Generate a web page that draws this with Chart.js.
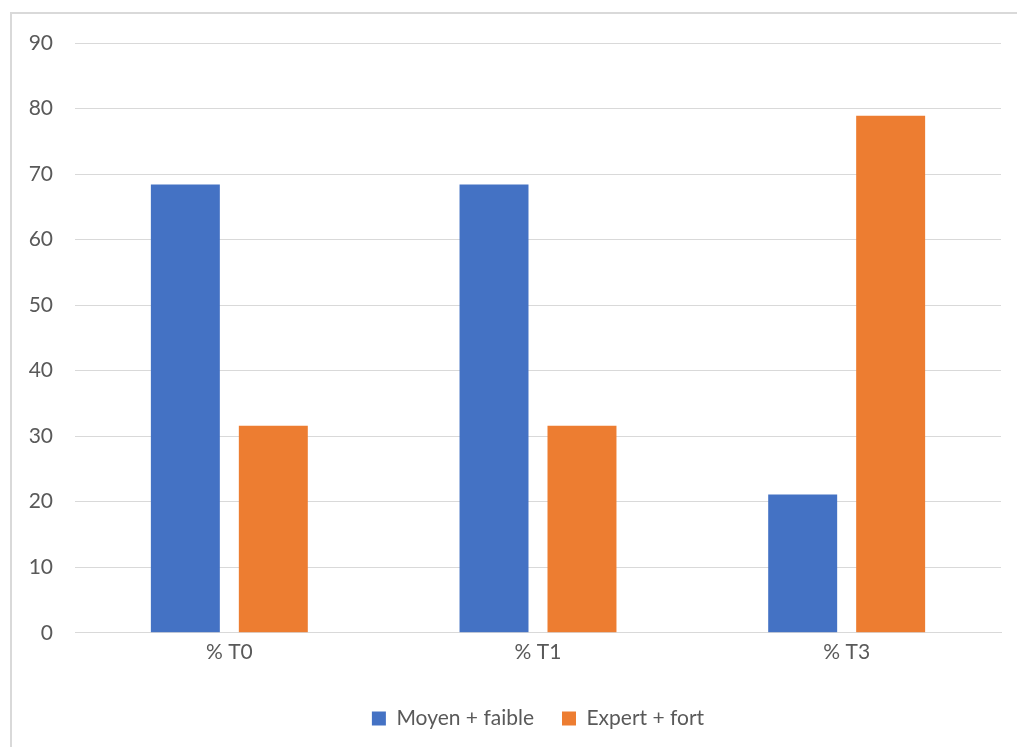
<!DOCTYPE html>
<html>
<head>
<meta charset="utf-8">
<script src="https://cdn.jsdelivr.net/npm/chart.js@4"></script>
<style>
  html, body { margin: 0; padding: 0; background: #fff; overflow: hidden; }
  #wrap { position: relative; width: 1017px; height: 747px; overflow: hidden; }
  #frame { position: absolute; left: 10px; top: 12px; width: 2000px; height: 2000px;
           border-left: 2px solid #d9d9d9; border-top: 2px solid #d9d9d9; }
  canvas { position: absolute; left: 0; top: 0; }
</style>
</head>
<body>
<div id="wrap">
  <div id="frame"></div>
  <canvas id="chartCanvas" width="1017" height="747"></canvas>
</div>
<script>
const categories = ['% T0', '% T1', '% T3'];
const moyenFaible = [68.4, 68.4, 21.1];
const expertFort = [31.6, 31.6, 78.9];
const seriesNames = ['Moyen + faible', 'Expert + fort'];

const ctx = document.getElementById('chartCanvas').getContext('2d');
const police = { family: 'Lato, "Open Sans", sans-serif', size: 21 };

new Chart(ctx, {
  type: 'bar',
  data: {
    labels: categories,
    datasets: [
      { label: seriesNames[0], data: moyenFaible, backgroundColor: '#4472C4' },
      { label: seriesNames[1], data: expertFort, backgroundColor: '#ED7D31' }
    ]
  },
  options: {
    responsive: false,
    animation: false,
    layout: { padding: { top: 43, right: 16, bottom: 8, left: 0 } },
    datasets: { bar: { categoryPercentage: 0.57, barPercentage: 0.784 } },
    scales: {
      x: {
        grid: { display: false, drawTicks: false },
        border: { display: true, color: '#d9d9d9', width: 1 },
        ticks: { color: '#595959', font: police, padding: 7 },
        afterFit: (scale) => { scale.height += 8; }
      },
      y: {
        min: 0,
        max: 90,
        ticks: { stepSize: 10, color: '#595959', font: police, padding: 22 },
        grid: { color: '#d9d9d9', drawTicks: false },
        border: { display: false },
        afterFit: (scale) => { scale.width = 75; }
      }
    },
    plugins: {
      legend: {
        position: 'bottom',
        fullSize: false,
        labels: { color: '#595959', font: police, boxWidth: 14, boxHeight: 14, padding: 28 }
      },
      tooltip: { enabled: false }
    }
  }
});
</script>
</body>
</html>
